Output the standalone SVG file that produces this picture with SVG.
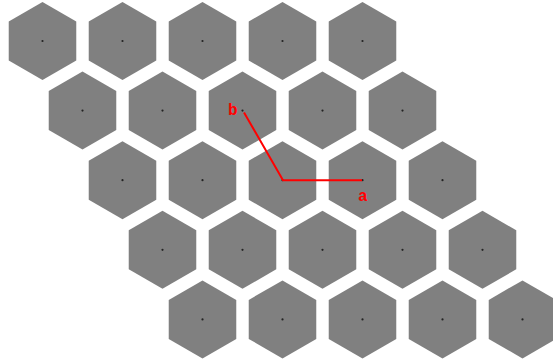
<svg xmlns="http://www.w3.org/2000/svg" xmlns:xlink="http://www.w3.org/1999/xlink" width="553" height="362" viewBox="0 0 553 362">
<style>
.hex{fill:#808080;stroke:none}
.dot{fill:#222}
.path{fill:none;stroke:#ff0000;stroke-width:2}
.lbl{font-family:"Liberation Mono","Courier New",monospace;font-weight:bold;font-size:16px;fill:#ff0000}
</style>
<defs>
<polygon id="hx" class="hex" points="0,-39 33.77,-19.5 33.77,19.5 0,39 -33.77,19.5 -33.77,-19.5"/>
<circle id="dt" class="dot" r="1.1"/>
</defs>
<rect width="553" height="362" fill="#ffffff"/>
<g id="hex-0-0" transform="translate(42.5,41)"><use xlink:href="#hx"/><use xlink:href="#dt"/></g>
<g id="hex-0-1" transform="translate(122.5,41)"><use xlink:href="#hx"/><use xlink:href="#dt"/></g>
<g id="hex-0-2" transform="translate(202.5,41)"><use xlink:href="#hx"/><use xlink:href="#dt"/></g>
<g id="hex-0-3" transform="translate(282.5,41)"><use xlink:href="#hx"/><use xlink:href="#dt"/></g>
<g id="hex-0-4" transform="translate(362.5,41)"><use xlink:href="#hx"/><use xlink:href="#dt"/></g>
<g id="hex-1-0" transform="translate(82.5,110.6)"><use xlink:href="#hx"/><use xlink:href="#dt"/></g>
<g id="hex-1-1" transform="translate(162.5,110.6)"><use xlink:href="#hx"/><use xlink:href="#dt"/></g>
<g id="hex-1-2" transform="translate(242.5,110.6)"><use xlink:href="#hx"/><use xlink:href="#dt"/></g>
<g id="hex-1-3" transform="translate(322.5,110.6)"><use xlink:href="#hx"/><use xlink:href="#dt"/></g>
<g id="hex-1-4" transform="translate(402.5,110.6)"><use xlink:href="#hx"/><use xlink:href="#dt"/></g>
<g id="hex-2-0" transform="translate(122.5,180.2)"><use xlink:href="#hx"/><use xlink:href="#dt"/></g>
<g id="hex-2-1" transform="translate(202.5,180.2)"><use xlink:href="#hx"/><use xlink:href="#dt"/></g>
<g id="hex-2-2" transform="translate(282.5,180.2)"><use xlink:href="#hx"/><use xlink:href="#dt"/></g>
<g id="hex-2-3" transform="translate(362.5,180.2)"><use xlink:href="#hx"/><use xlink:href="#dt"/></g>
<g id="hex-2-4" transform="translate(442.5,180.2)"><use xlink:href="#hx"/><use xlink:href="#dt"/></g>
<g id="hex-3-0" transform="translate(162.5,249.8)"><use xlink:href="#hx"/><use xlink:href="#dt"/></g>
<g id="hex-3-1" transform="translate(242.5,249.8)"><use xlink:href="#hx"/><use xlink:href="#dt"/></g>
<g id="hex-3-2" transform="translate(322.5,249.8)"><use xlink:href="#hx"/><use xlink:href="#dt"/></g>
<g id="hex-3-3" transform="translate(402.5,249.8)"><use xlink:href="#hx"/><use xlink:href="#dt"/></g>
<g id="hex-3-4" transform="translate(482.5,249.8)"><use xlink:href="#hx"/><use xlink:href="#dt"/></g>
<g id="hex-4-0" transform="translate(202.5,319.4)"><use xlink:href="#hx"/><use xlink:href="#dt"/></g>
<g id="hex-4-1" transform="translate(282.5,319.4)"><use xlink:href="#hx"/><use xlink:href="#dt"/></g>
<g id="hex-4-2" transform="translate(362.5,319.4)"><use xlink:href="#hx"/><use xlink:href="#dt"/></g>
<g id="hex-4-3" transform="translate(442.5,319.4)"><use xlink:href="#hx"/><use xlink:href="#dt"/></g>
<g id="hex-4-4" transform="translate(522.5,319.4)"><use xlink:href="#hx"/><use xlink:href="#dt"/></g>
<g id="connectors">
<polyline class="path" points="244,112.5 283,180.2 362,180.2"/>
</g>
<g id="labels">
<text class="lbl" x="237.5" y="115" text-anchor="end">b</text>
<text class="lbl" x="358" y="201">a</text>
</g>
</svg>
